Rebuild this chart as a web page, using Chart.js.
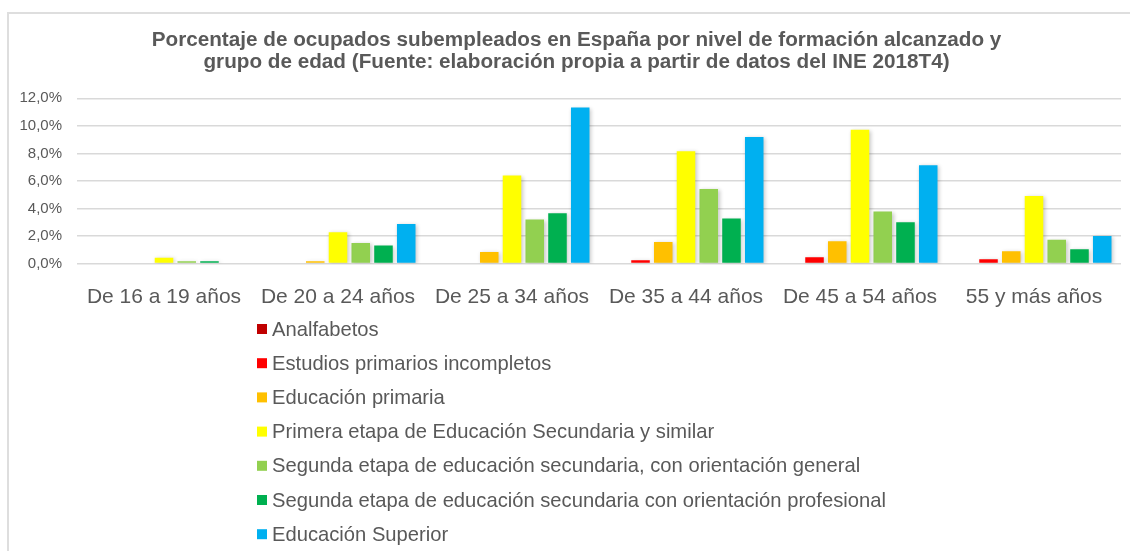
<!DOCTYPE html>
<html>
<head>
<meta charset="utf-8">
<script src="https://cdn.jsdelivr.net/npm/chart.js@4/dist/chart.umd.min.js"></script>
<style>
	html, body { margin: 0; padding: 0; background: #fff; overflow: hidden; }
	#wrap { position: relative; width: 1130px; height: 551px; overflow: hidden; }
	.rule { position: absolute; background: #dedede; }
	#ruleLeft { left: 7px; top: 12px; width: 2px; height: 539px; }
	#ruleTop { left: 7px; top: 12px; width: 1123px; height: 2px; }
	canvas { position: absolute; left: 0; top: 0; }
</style>
</head>
<body>
<div id="wrap">
	<div class="rule" id="ruleLeft"></div>
	<div class="rule" id="ruleTop"></div>
	<canvas id="chart" width="1130" height="551"></canvas>
</div>
<script>
const categories = ['De 16 a 19 años', 'De 20 a 24 años', 'De 25 a 34 años', 'De 35 a 44 años', 'De 45 a 54 años', '55 y más años']

const analfabetos = [0, 0, 0, 0, 0, 0]
const primariosIncompletos = [0, 0, 0, 0.23, 0.45, 0.30]
const primaria = [0, 0.16, 0.84, 1.56, 1.61, 0.89]
const primeraSecundaria = [0.42, 2.27, 6.39, 8.16, 9.71, 4.91]
const segundaGeneral = [0.16, 1.49, 3.19, 5.42, 3.77, 1.73]
const segundaProfesional = [0.17, 1.30, 3.65, 3.26, 3.00, 1.03]
const superior = [0, 2.87, 11.33, 9.18, 7.14, 2.00]

const yTicks = [0, 2, 4, 6, 8, 10, 12]

const titleLines = [
	'Porcentaje de ocupados subempleados en España por nivel de formación alcanzado y',
	'grupo de edad (Fuente: elaboración propia a partir de datos del INE 2018T4)'
]

const grey = '#595959'

const series = [
	{label: 'Analfabetos', data: analfabetos, color: '#C00000'},
	{label: 'Estudios primarios incompletos', data: primariosIncompletos, color: '#FF0000'},
	{label: 'Educación primaria', data: primaria, color: '#FFC000'},
	{label: 'Primera etapa de Educación Secundaria y similar', data: primeraSecundaria, color: '#FFFF00'},
	{label: 'Segunda etapa de educación secundaria, con orientación general', data: segundaGeneral, color: '#92D050'},
	{label: 'Segunda etapa de educación secundaria con orientación profesional', data: segundaProfesional, color: '#00B050'},
	{label: 'Educación Superior', data: superior, color: '#00B0F0'}
]

// soft shadow under the bars, like the Excel original
const barShadow = {
	id: 'barShadow',
	beforeDatasetsDraw(chart) {
		const ctx = chart.ctx
		ctx.save()
		ctx.shadowColor = 'rgba(0,0,0,0.22)'
		ctx.shadowBlur = 4
		ctx.shadowOffsetX = 1.5
		ctx.shadowOffsetY = 1
	},
	afterDatasetsDraw(chart) {
		chart.ctx.restore()
	}
}

// title in the original sits a bit right of the canvas centre
const titleShift = {
	id: 'titleShift',
	afterLayout(chart) {
		if (chart.titleBlock) chart.titleBlock.left += 32
	}
}

// vertical legend under the axis, one entry per line
const listLegend = {
	id: 'listLegend',
	afterDraw(chart, args, opts) {
		const ctx = chart.ctx
		ctx.save()
		ctx.font = opts.font
		ctx.textBaseline = 'middle'
		chart.data.datasets.forEach(function(ds, i) {
			const y = opts.top + i * opts.step
			ctx.fillStyle = ds.backgroundColor
			ctx.fillRect(opts.left, y - 5, 10, 10)
			ctx.fillStyle = grey
			ctx.fillText(ds.label, opts.left + 15, y + 1)
		})
		ctx.restore()
	}
}

new Chart(document.getElementById('chart'), {
	type: 'bar',
	data: {
		labels: categories,
		datasets: series.map(function(s) {
			return {
				label: s.label,
				data: s.data,
				backgroundColor: s.color,
				categoryPercentage: 0.915,
				barPercentage: 0.815
			}
		})
	},
	options: {
		responsive: false,
		animation: false,
		events: [],
		layout: {padding: {left: 0, right: 9, top: 0, bottom: 0}},
		plugins: {
			legend: {display: false},
			tooltip: {enabled: false},
			title: {
				display: true,
				text: titleLines,
				color: grey,
				font: {family: 'Liberation Sans, Arial, sans-serif', size: 20.7, weight: 'bold', lineHeight: 1.07},
				padding: {top: 29, bottom: 25}
			},
			listLegend: {left: 257, top: 329, step: 34.2, font: '20.2px "Liberation Sans", Arial, sans-serif'}
		},
		scales: {
			x: {
				grid: {display: false},
				border: {display: false},
				ticks: {
					color: grey,
					padding: 13,
					font: {family: 'Liberation Sans, Arial, sans-serif', size: 21}
				},
				afterFit(s) { s.height = 287.5 }
			},
			y: {
				min: 0,
				max: 12,
				afterBuildTicks(s) { s.ticks = yTicks.map(function(v) { return {value: v} }) },
				grid: {color: '#d9d9d9', lineWidth: 1.5, drawTicks: false},
				border: {display: false},
				ticks: {
					color: grey,
					padding: 15,
					font: {family: 'Liberation Sans, Arial, sans-serif', size: 15},
					callback: function(v) { return v.toFixed(1).replace('.', ',') + '%' }
				},
				afterFit(s) { s.width = 77 }
			}
		}
	},
	plugins: [barShadow, titleShift, listLegend]
})
</script>
</body>
</html>
